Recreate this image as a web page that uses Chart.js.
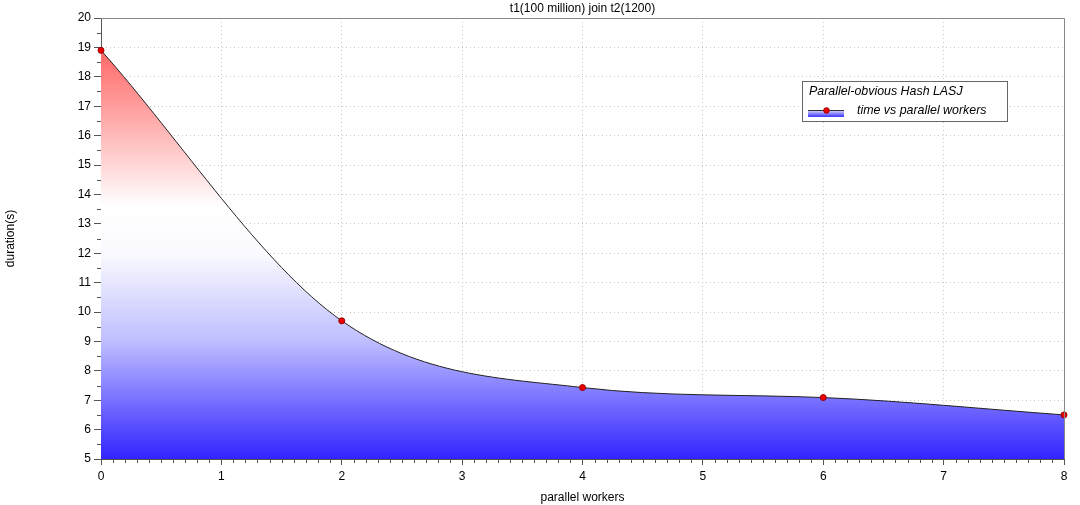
<!DOCTYPE html>
<html>
<head>
<meta charset="utf-8">
<script src="https://cdn.jsdelivr.net/npm/chart.js@4/dist/chart.umd.min.js"></script>
<style>
html,body{margin:0;padding:0;background:#fff;}
#wrap{width:1080px;height:505px;position:relative;}
</style>
</head>
<body>
<div id="wrap"><canvas id="c" width="1080" height="505"></canvas></div>
<script>
const workers = [0, 2, 4, 6, 8];
const durations = [18.9, 9.7, 7.43, 7.09, 6.5];
const yTicks = [5,6,7,8,9,10,11,12,13,14,15,16,17,18,19,20];
const xTicks = [0,1,2,3,4,5,6,7,8];
const chartTitle = 't1(100 million) join t2(1200)';
const legendTitle = 'Parallel-obvious Hash LASJ';
const seriesLabel = 'time vs parallel workers';
const xTitle = 'parallel workers';
const yTitle = 'duration(s)';

const FONT = '"Liberation Sans", Arial, Helvetica, sans-serif';

function fillGradient(ctx, area, yScale) {
  const g = ctx.createLinearGradient(0, area.top, 0, area.bottom);
  const pos = v => (yScale.getPixelForValue(v) - area.top) / (area.bottom - area.top);
  g.addColorStop(0, 'rgb(255,50,50)');
  g.addColorStop(pos(19), 'rgb(255,100,100)');
  g.addColorStop(pos(13.6), 'rgb(255,255,255)');
  g.addColorStop(pos(12), 'rgb(250,250,255)');
  g.addColorStop(pos(9), 'rgb(190,190,255)');
  g.addColorStop(1, 'rgb(50,35,255)');
  return g;
}

const extras = {
  id: 'extras',
  afterDraw(chart) {
    const {ctx, chartArea: a, scales} = chart;
    const xs = scales.x, ys = scales.y;
    ctx.save();
    // frame top/right
    ctx.strokeStyle = '#888';
    ctx.lineWidth = 1;
    ctx.beginPath();
    ctx.moveTo(a.left, a.top + 0.5); ctx.lineTo(a.right + 0.5, a.top + 0.5);
    ctx.lineTo(a.right + 0.5, a.bottom);
    ctx.stroke();
    // minor ticks
    ctx.strokeStyle = '#555';
    ctx.beginPath();
    for (let i = 0; i <= 80; i++) {
      if (i % 10 === 0) continue;
      const px = Math.round(xs.getPixelForValue(i / 10)) + 0.5;
      ctx.moveTo(px, a.bottom); ctx.lineTo(px, a.bottom + 4);
    }
    for (let v = 5.5; v < 20; v += 1) {
      const py = Math.round(ys.getPixelForValue(v)) + 0.5;
      ctx.moveTo(a.left - 4, py); ctx.lineTo(a.left, py);
    }
    ctx.stroke();
    // title
    ctx.fillStyle = '#000';
    ctx.font = '12px ' + FONT;
    ctx.textAlign = 'center';
    ctx.textBaseline = 'middle';
    ctx.fillText(chartTitle, (a.left + a.right) / 2, 9);
    // legend
    const lx = 802.5, ly = 81.5, lw = 205, lh = 40;
    ctx.fillStyle = '#fff';
    ctx.fillRect(lx, ly, lw, lh);
    ctx.strokeStyle = '#666';
    ctx.strokeRect(lx, ly, lw, lh);
    ctx.fillStyle = '#000';
    ctx.textAlign = 'left';
    ctx.font = 'italic 12.4px ' + FONT;
    ctx.fillText(legendTitle, 809, 92);
    const g = ctx.createLinearGradient(0, 111, 0, 117);
    g.addColorStop(0, 'rgb(200,200,255)');
    g.addColorStop(1, 'rgb(60,50,255)');
    ctx.fillStyle = g;
    ctx.fillRect(808, 111, 36, 6);
    ctx.strokeStyle = '#333';
    ctx.beginPath(); ctx.moveTo(808, 110.5); ctx.lineTo(844, 110.5); ctx.stroke();
    ctx.fillStyle = '#e00';
    ctx.strokeStyle = '#900';
    ctx.beginPath(); ctx.arc(826.5, 110.5, 2.8, 0, Math.PI * 2); ctx.fill(); ctx.stroke();
    ctx.fillStyle = '#000';
    ctx.fillText(seriesLabel, 857, 111);
    ctx.restore();
  }
};

new Chart(document.getElementById('c'), {
  type: 'line',
  data: {
    datasets: [{
      label: seriesLabel,
      data: workers.map((w, i) => ({x: w, y: durations[i]})),
      borderColor: '#222',
      borderWidth: 1,
      cubicInterpolationMode: 'monotone',
      fill: 'start',
      backgroundColor: (c) => {
        const ch = c.chart;
        if (!ch.chartArea) return 'rgba(0,0,255,0.3)';
        return fillGradient(ch.ctx, ch.chartArea, ch.scales.y);
      },
      pointRadius: 3,
      pointBackgroundColor: '#e00',
      pointBorderColor: '#900',
      pointBorderWidth: 1,
      clip: false
    }]
  },
  options: {
    responsive: false,
    animation: false,
    devicePixelRatio: 1,
    layout: {padding: {top: 18, right: 16, left: 0, bottom: 0}},
    plugins: {legend: {display: false}, title: {display: false}, tooltip: {enabled: false}},
    scales: {
      x: {
        type: 'linear', min: 0, max: 8,
        afterBuildTicks: s => { s.ticks = xTicks.map(v => ({value: v})); },
        afterFit: s => { s.height = 46; },
        grid: {color: '#c8c8c8', tickColor: '#555', tickLength: 6, drawTicks: true},
        border: {display: true, color: '#555', width: 1, dash: [1, 3]},
        ticks: {color: '#000', font: {family: FONT, size: 12}, padding: 4, maxRotation: 0},
        title: {display: true, text: xTitle, color: '#000', font: {family: FONT, size: 12}, padding: {top: 4, bottom: 0}}
      },
      y: {
        type: 'linear', min: 5, max: 20,
        afterBuildTicks: s => { s.ticks = yTicks.map(v => ({value: v})); },
        afterFit: s => { s.width = 101; },
        grid: {color: '#c8c8c8', tickColor: '#555', tickLength: 7, drawTicks: true},
        border: {display: true, color: '#555', width: 1, dash: [1, 3]},
        ticks: {color: '#000', font: {family: FONT, size: 12}, padding: 3},
        title: {display: true, text: yTitle, color: '#000', font: {family: FONT, size: 12}, padding: {top: 3, bottom: 0}}
      }
    }
  },
  plugins: [extras]
});
</script>
</body>
</html>
